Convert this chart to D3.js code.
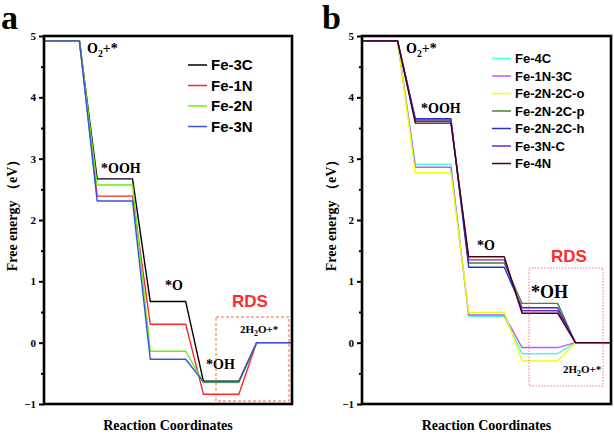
<!DOCTYPE html>
<html><head><meta charset="utf-8">
<script src="https://cdn.jsdelivr.net/npm/d3@7"></script>
<style>body{margin:0;background:#fff}svg{display:block}</style>
</head><body>
<script>
// ---- data ----
const steps = ["O2+*", "*OOH", "*O", "*OH", "2H2O+*"];
const yTicks = [-1, 0, 1, 2, 3, 4, 5];

const seriesA = ["Fe-3C", "Fe-1N", "Fe-2N", "Fe-3N"];
const colorsA = ["#000000", "#ff2626", "#66ee11", "#3355dd"];
const fe3C = [4.92, 2.67, 0.67, -0.63, 0];
const fe1N = [4.92, 2.39, 0.30, -0.84, 0];
const fe2N = [4.92, 2.57, -0.14, -0.65, 0];
const fe3N = [4.92, 2.31, -0.27, -0.64, 0];
const valuesA = [fe3C, fe1N, fe2N, fe3N];

const seriesB = ["Fe-4C", "Fe-1N-3C", "Fe-2N-2C-o", "Fe-2N-2C-p", "Fe-2N-2C-h", "Fe-3N-C", "Fe-4N"];
const colorsB = ["#44ffe0", "#c455ff", "#f2ff00", "#4f7f2f", "#2233c4", "#7a22c8", "#4a0012"];
const fe4C = [4.92, 2.91, 0.43, -0.18, 0];
const fe1N3C = [4.92, 2.86, 0.45, -0.08, 0];
const fe2N2Co = [4.92, 2.77, 0.49, -0.30, 0];
const fe2N2Cp = [4.92, 3.63, 1.30, 0.64, 0];
const fe2N2Ch = [4.92, 3.65, 1.23, 0.57, 0];
const fe3NC = [4.92, 3.61, 1.35, 0.52, 0];
const fe4N = [4.92, 3.58, 1.40, 0.48, 0];
const valuesB = [fe4C, fe1N3C, fe2N2Co, fe2N2Cp, fe2N2Ch, fe3NC, fe4N];

// ---- drawing ----
const W = 614, H = 436;
const svg = d3.select("body").append("svg").attr("width", W).attr("height", H);
const serif = "'Liberation Serif','Times New Roman',serif";
const sans = "'Liberation Sans',Arial,sans-serif";

function stepPoints(vals) {
  const pts = [];
  vals.forEach((v, i) => { pts.push([3 * i, v]); pts.push([3 * i + 2, v]); });
  return pts;
}

function panel(cfg) {
  const x = d3.scaleLinear().domain([0, 14]).range([cfg.x0, cfg.x1]);
  const y = d3.scaleLinear().domain([-1, 5]).range([404, 36]);
  const g = svg.append("g");

  const line = d3.line().x(d => x(d[0])).y(d => y(d[1]));
  cfg.values.forEach((vals, i) => {
    g.append("path").attr("d", line(stepPoints(vals)))
      .attr("fill", "none").attr("stroke", cfg.colors[i]).attr("stroke-width", 1.4)
      .attr("stroke-linejoin", "round");
  });

  g.append("rect").attr("x", cfg.x0).attr("y", y(5)).attr("width", cfg.x1 - cfg.x0)
    .attr("height", y(-1) - y(5)).attr("fill", "none").attr("stroke", "#000").attr("stroke-width", 2.6);

  const ax = g.append("g").attr("transform", `translate(${cfg.x0},0)`)
    .call(d3.axisLeft(y).tickValues(yTicks).tickSize(5).tickPadding(3).tickFormat(d3.format("d")));
  ax.select(".domain").remove();
  ax.selectAll(".tick line").attr("stroke-width", 2);
  ax.selectAll("text").attr("font-family", serif).attr("font-weight", "bold").attr("font-size", 11);
  const minors = d3.range(-0.5, 5, 1);
  const axm = g.append("g").attr("transform", `translate(${cfg.x0},0)`)
    .call(d3.axisLeft(y).tickValues(minors).tickSize(3).tickFormat(""));
  axm.select(".domain").remove();
  axm.selectAll(".tick line").attr("stroke-width", 2);

  g.append("text").attr("transform", `translate(${cfg.ylx},212) rotate(-90)`)
    .attr("text-anchor", "middle").attr("font-family", serif).attr("font-weight", "bold")
    .attr("font-size", 14).text("Free energy （eV）");
  g.append("text").attr("x", (cfg.x0 + cfg.x1) / 2).attr("y", 430).attr("text-anchor", "middle")
    .attr("font-family", serif).attr("font-weight", "bold").attr("font-size", 14).text("Reaction Coordinates");
  g.append("text").attr("x", cfg.letterX).attr("y", 29).attr("font-family", serif)
    .attr("font-weight", "bold").attr("font-size", 34).text(cfg.letter);

  cfg.series.forEach((s, i) => {
    const ly = cfg.legY + i * cfg.legDy;
    g.append("line").attr("x1", cfg.legX).attr("x2", cfg.legX + cfg.legLen).attr("y1", ly).attr("y2", ly)
      .attr("stroke", cfg.colors[i]).attr("stroke-width", 1.5);
    g.append("text").attr("x", cfg.legX + cfg.legLen + 4).attr("y", ly).attr("dy", "0.36em")
      .attr("font-family", sans).attr("font-weight", "bold").attr("font-size", cfg.legFs).text(s);
  });

  cfg.labels.forEach(l => {
    const t = g.append("text").attr("x", l.x).attr("y", l.y).attr("font-family", serif)
      .attr("font-weight", "bold").attr("font-size", l.fs);
    if (l.sub) {
      t.append("tspan").text(l.pre);
      t.append("tspan").attr("font-size", l.fs * 0.7).attr("dy", l.fs * 0.25).text("2");
      t.append("tspan").attr("dy", -l.fs * 0.25).text(l.post);
    } else t.text(l.text);
  });

  g.append("text").attr("x", cfg.rds.x).attr("y", cfg.rds.y).attr("font-family", sans)
    .attr("font-weight", "bold").attr("font-size", 17).attr("fill", "#ff2a2a").text("RDS");
  g.append("rect").attr("x", cfg.box[0]).attr("y", cfg.box[1]).attr("width", cfg.box[2] - cfg.box[0])
    .attr("height", cfg.box[3] - cfg.box[1]).attr("fill", "none").attr("stroke", cfg.boxColor)
    .attr("stroke-width", 1).attr("stroke-dasharray", cfg.dash);
}

panel({
  x0: 44, x1: 292, ylx: 17, letter: "a", letterX: 1, values: valuesA, colors: colorsA, series: seriesA,
  legX: 188, legLen: 19, legY: 65, legDy: 20.5, legFs: 15,
  labels: [
    {x: 87, y: 53, fs: 14, sub: true, pre: "O", post: "+*"},
    {x: 101, y: 173, fs: 14, text: "*OOH"},
    {x: 165, y: 290, fs: 14, text: "*O"},
    {x: 206, y: 369, fs: 14, text: "*OH"},
    {x: 240, y: 333, fs: 11, sub: true, pre: "2H", post: "O+*"}
  ],
  rds: {x: 232, y: 307}, box: [216, 317, 289, 401], boxColor: "#ff6633", dash: "3,2"
});

panel({
  x0: 362, x1: 611, ylx: 336, letter: "b", letterX: 322, values: valuesB, colors: colorsB, series: seriesB,
  legX: 492, legLen: 19, legY: 58.5, legDy: 17.5, legFs: 13,
  labels: [
    {x: 406, y: 53, fs: 14, sub: true, pre: "O", post: "+*"},
    {x: 421, y: 113, fs: 14, text: "*OOH"},
    {x: 477, y: 250, fs: 14, text: "*O"},
    {x: 531, y: 298, fs: 18, text: "*OH"},
    {x: 563, y: 373, fs: 11, sub: true, pre: "2H", post: "O+*"}
  ],
  rds: {x: 551, y: 262}, box: [529, 268, 603, 386], boxColor: "#ff7090", dash: "1.5,1.5"
});
</script>
</body></html>
